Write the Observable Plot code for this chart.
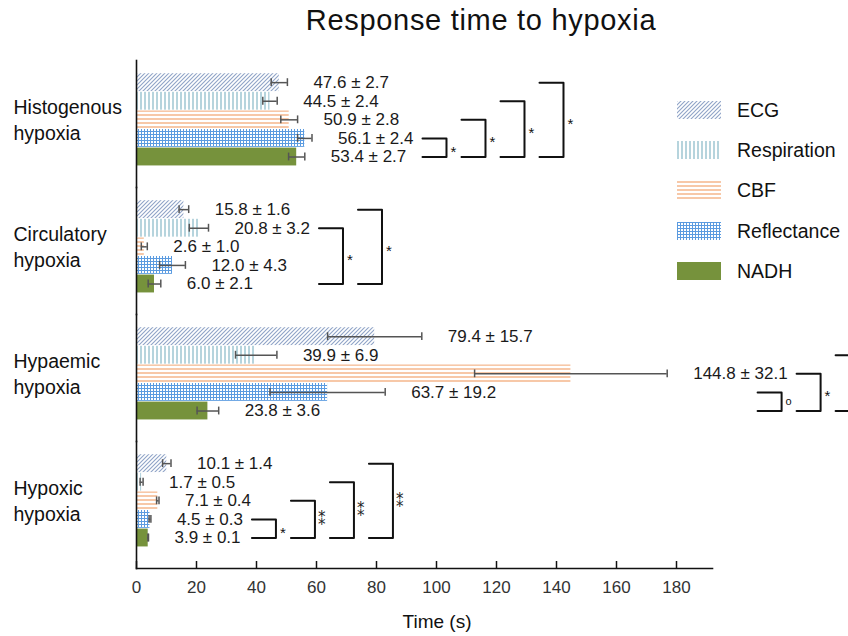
<!DOCTYPE html>
<html>
<head>
<meta charset="utf-8">
<script src="https://cdn.jsdelivr.net/npm/d3@7"></script>
<script src="https://cdn.jsdelivr.net/npm/@observablehq/plot@0.6"></script>
<style>
  html, body { margin: 0; padding: 0; background: #fff; overflow: hidden; }
  #wrap { position: relative; width: 848px; height: 636px; font-family: "Liberation Sans", Arial, sans-serif; color: #111; }
  #title { position: relative; height: 50px; }
  #title span { position: absolute; left: 481px; top: 3px; transform: translateX(-50%); font-size: 29px; line-height: 34px; letter-spacing: 0.7px; white-space: nowrap; color: #111; }
  #xlabel { position: absolute; left: 437px; top: 610px; transform: translateX(-50%); font-size: 19px; line-height: 24px; white-space: nowrap; color: #111; }
  .lg { position: absolute; left: 677px; height: 18px; display: flex; align-items: center; }
  .lg svg { display: block; }
  .lg span { position: absolute; left: 60px; font-size: 19.5px; line-height: 22px; white-space: nowrap; color: #111; }
</style>
</head>
<body>
<svg width="0" height="0" style="position:absolute">
  <defs>
    <pattern id="p-ECG" width="4" height="4" patternUnits="userSpaceOnUse">
      <rect width="4" height="4" fill="#fff"/>
      <path d="M-1,1 L1,-1 M0,4 L4,0 M3,5 L5,3" stroke="#8fa3c7" stroke-width="1.1"/>
    </pattern>
    <pattern id="p-Respiration" width="4" height="4" patternUnits="userSpaceOnUse">
      <rect width="4" height="4" fill="#fff"/>
      <line x1="1" y1="0" x2="1" y2="4" stroke="#9ec6d2" stroke-width="1.5"/>
    </pattern>
    <pattern id="p-CBF" width="4" height="4" patternUnits="userSpaceOnUse">
      <rect width="4" height="4" fill="#fff"/>
      <line x1="0" y1="1" x2="4" y2="1" stroke="#f4b183" stroke-width="1.4"/>
    </pattern>
    <pattern id="p-Reflectance" width="3" height="3" patternUnits="userSpaceOnUse">
      <rect width="3" height="3" fill="#fff"/>
      <path d="M0,0.5 H3 M0.5,0 V3" stroke="#5b9be0" stroke-width="1"/>
    </pattern>
  </defs>
</svg>
<div id="wrap">
  <div id="title"><span>Response time to hypoxia</span></div>
  <div id="chart"></div>
  <div id="xlabel">Time (s)</div>
  <div id="legend"></div>
</div>
<script>
// ---- data ----
const groups = ["Histogenous hypoxia", "Circulatory hypoxia", "Hypaemic hypoxia", "Hypoxic hypoxia"];
const measures = ["ECG", "Respiration", "CBF", "Reflectance", "NADH"];

const meanECG = [47.6, 15.8, 79.4, 10.1];
const sdECG = [2.7, 1.6, 15.7, 1.4];
const meanRespiration = [44.5, 20.8, 39.9, 1.7];
const sdRespiration = [2.4, 3.2, 6.9, 0.5];
const meanCBF = [50.9, 2.6, 144.8, 7.1];
const sdCBF = [2.8, 1.0, 32.1, 0.4];
const meanReflectance = [56.1, 12.0, 63.7, 4.5];
const sdReflectance = [2.4, 4.3, 19.2, 0.3];
const meanNADH = [53.4, 6.0, 23.8, 3.9];
const sdNADH = [2.7, 2.1, 3.6, 0.1];

const xTicks = [0, 20, 40, 60, 80, 100, 120, 140, 160, 180];

// significance brackets (each compares "from" with "to"); "" = marker not visible in the figure
const bracketGroup = ["Histogenous hypoxia", "Histogenous hypoxia", "Histogenous hypoxia", "Histogenous hypoxia",
  "Circulatory hypoxia", "Circulatory hypoxia",
  "Hypaemic hypoxia", "Hypaemic hypoxia", "Hypaemic hypoxia",
  "Hypoxic hypoxia", "Hypoxic hypoxia", "Hypoxic hypoxia", "Hypoxic hypoxia"];
const bracketFrom = ["Reflectance", "CBF", "Respiration", "ECG",
  "Respiration", "ECG",
  "Reflectance", "CBF", "Respiration",
  "Reflectance", "CBF", "Respiration", "ECG"];
const bracketTo = ["NADH", "NADH", "NADH", "NADH", "NADH", "NADH", "NADH", "NADH", "NADH", "NADH", "NADH", "NADH", "NADH"];
const bracketLabel = ["*", "*", "*", "*", "*", "*", "o", "*", "", "*", "**", "**", "**"];

// ---- styles ----
const fills = {
  ECG: "url(#p-ECG)", Respiration: "url(#p-Respiration)", CBF: "url(#p-CBF)",
  Reflectance: "url(#p-Reflectance)", NADH: "#76923c"
};

// ---- table ----
const means = {ECG: meanECG, Respiration: meanRespiration, CBF: meanCBF, Reflectance: meanReflectance, NADH: meanNADH};
const sds = {ECG: sdECG, Respiration: sdRespiration, CBF: sdCBF, Reflectance: sdReflectance, NADH: sdNADH};
const rows = groups.flatMap((g, gi) => measures.map(m => ({
  group: g, measure: m, mean: means[m][gi], sd: sds[m][gi],
  label: `${means[m][gi].toFixed(1)} ± ${sds[m][gi].toFixed(1)}`
})));

// ---- layout ----
const W = 848, H = 586, mt = 10, mb = 68, ml = 136, mr = 136, xMax = 192;
const labelDx = 26, labelFont = 17;
const xs = d3.scaleLinear([0, xMax], [ml, W - mr]);
const yPadIn = 0.04, yPadOut = 0.935, yAlign = 0.38;
const bandH = (H - mt - mb) / groups.length;
const yStep = d3.scaleBand(measures, [0, bandH]).paddingInner(yPadIn).paddingOuter(yPadOut).align(yAlign).step();

const ctx = document.createElement("canvas").getContext("2d");
ctx.font = `${labelFont}px "Liberation Sans"`;
const labelEnd = r => xs(r.mean + r.sd) + labelDx + ctx.measureText(r.label).width;

// bracket placement: stacked outward, each clearing the labels of the rows it spans
const gap = 9, arm = 24, stackStep = 39;
const brackets = bracketGroup.map((g, i) => ({group: g, from: bracketFrom[i], to: bracketTo[i], label: bracketLabel[i], id: i}));
for (const g of groups) {
  const bs = brackets.filter(b => b.group === g);
  let v0 = -Infinity;
  bs.forEach((b, k) => {
    const i0 = measures.indexOf(b.from), i1 = measures.indexOf(b.to);
    const span = measures.slice(Math.min(i0, i1), Math.max(i0, i1) + 1);
    const need = d3.max(rows.filter(r => r.group === g && span.includes(r.measure)), labelEnd) + gap + arm;
    b.span = Math.abs(i1 - i0);
    v0 = Math.max(v0, need - k * stackStep);
  });
  bs.forEach((b, k) => {
    b.xv = xs.invert(v0 + k * stackStep);
    b.xl = xs.invert(v0 + k * stackStep - arm);
  });
}
const bracketPts = brackets.flatMap(b => [
  {id: b.id, group: b.group, x: b.xl, m: b.from},
  {id: b.id, group: b.group, x: b.xv, m: b.from},
  {id: b.id, group: b.group, x: b.xv, m: b.to},
  {id: b.id, group: b.group, x: b.xl, m: b.to}
]);
const shown = brackets.filter(b => b.label !== "");
const spans = [...new Set(shown.map(b => b.span))];
const starMarks = spans.flatMap(s => [
  Plot.text(shown.filter(b => b.span === s && b.label === "*"), {
    fy: "group", x: "xv", y: "to", text: "label",
    dx: 4, dy: -s * yStep / 2 + 4, textAnchor: "start", lineAnchor: "middle",
    fontSize: 15, fill: "#111"
  }),
  Plot.text(shown.filter(b => b.span === s && b.label === "**"), {
    fy: "group", x: "xv", y: "to", text: () => "\u2051",
    dx: 3, dy: -s * yStep / 2 + 1, textAnchor: "start", lineAnchor: "middle",
    fontSize: 15, fontFamily: "DejaVu Sans", fill: "#222"
  }),
  Plot.text(shown.filter(b => b.span === s && !b.label.includes("*")), {
    fy: "group", x: "xv", y: "to", text: "label",
    dx: 4, dy: -s * yStep / 2, textAnchor: "start", lineAnchor: "middle",
    fontSize: 11, fill: "#111"
  })
]);

const chart = Plot.plot({
  width: W, height: H,
  marginTop: mt, marginBottom: mb, marginLeft: ml, marginRight: mr,
  style: {fontFamily: '"Liberation Sans", Arial, sans-serif', background: "white", overflow: "visible"},
  x: {domain: [0, xMax]},
  y: {domain: measures, paddingInner: yPadIn, paddingOuter: yPadOut, align: yAlign, round: false, axis: null},
  fy: {domain: groups, padding: 0, round: false, axis: null},
  color: {type: "identity"},
  marks: [
    Plot.barX(rows, {fy: "group", y: "measure", x: "mean", fill: d => fills[d.measure]}),
    Plot.ruleY(rows, {fy: "group", y: "measure", x1: d => d.mean - d.sd, x2: d => d.mean + d.sd, stroke: "#555", strokeWidth: 1.5}),
    Plot.tickX(rows, {fy: "group", y: "measure", x: d => d.mean - d.sd, insetTop: 5, insetBottom: 5, stroke: "#555", strokeWidth: 1.5}),
    Plot.tickX(rows, {fy: "group", y: "measure", x: d => d.mean + d.sd, insetTop: 5, insetBottom: 5, stroke: "#555", strokeWidth: 1.5}),
    Plot.text(rows, {fy: "group", y: "measure", x: d => d.mean + d.sd, text: "label", dx: labelDx,
      textAnchor: "start", fontSize: labelFont, fill: "#1a1a1a"}),
    Plot.line(bracketPts, {fy: "group", x: "x", y: "m", z: "id", stroke: "#111", strokeWidth: 2}),
    ...starMarks,
    Plot.text(groups, {fy: d => d, text: d => d.replace(" ", "\n"), frameAnchor: "left", dx: -123, dy: -5,
      textAnchor: "start", lineAnchor: "middle", lineHeight: 1.33, fontSize: 19.5, fill: "#111"}),
    Plot.frame({anchor: "left", stroke: "#111", strokeWidth: 1.6}),
    Plot.frame({anchor: "bottom", facetAnchor: "bottom", stroke: "#111", strokeWidth: 1.6}),
    Plot.axisX({ticks: xTicks, tickSize: -7, tickPadding: 19, fontSize: 17, fill: "#333", stroke: "#111", strokeWidth: 1.5, label: null})
  ]
});
document.getElementById("chart").appendChild(chart);

// ---- legend ----
const legend = document.getElementById("legend");
measures.forEach((m, i) => {
  const row = document.createElement("div");
  row.className = "lg";
  row.style.top = (101 + i * 40.2) + "px";
  row.innerHTML = `<svg width="44" height="18"><rect width="44" height="18" fill="${fills[m]}"/></svg><span>${m}</span>`;
  legend.appendChild(row);
});
</script>
</body>
</html>
